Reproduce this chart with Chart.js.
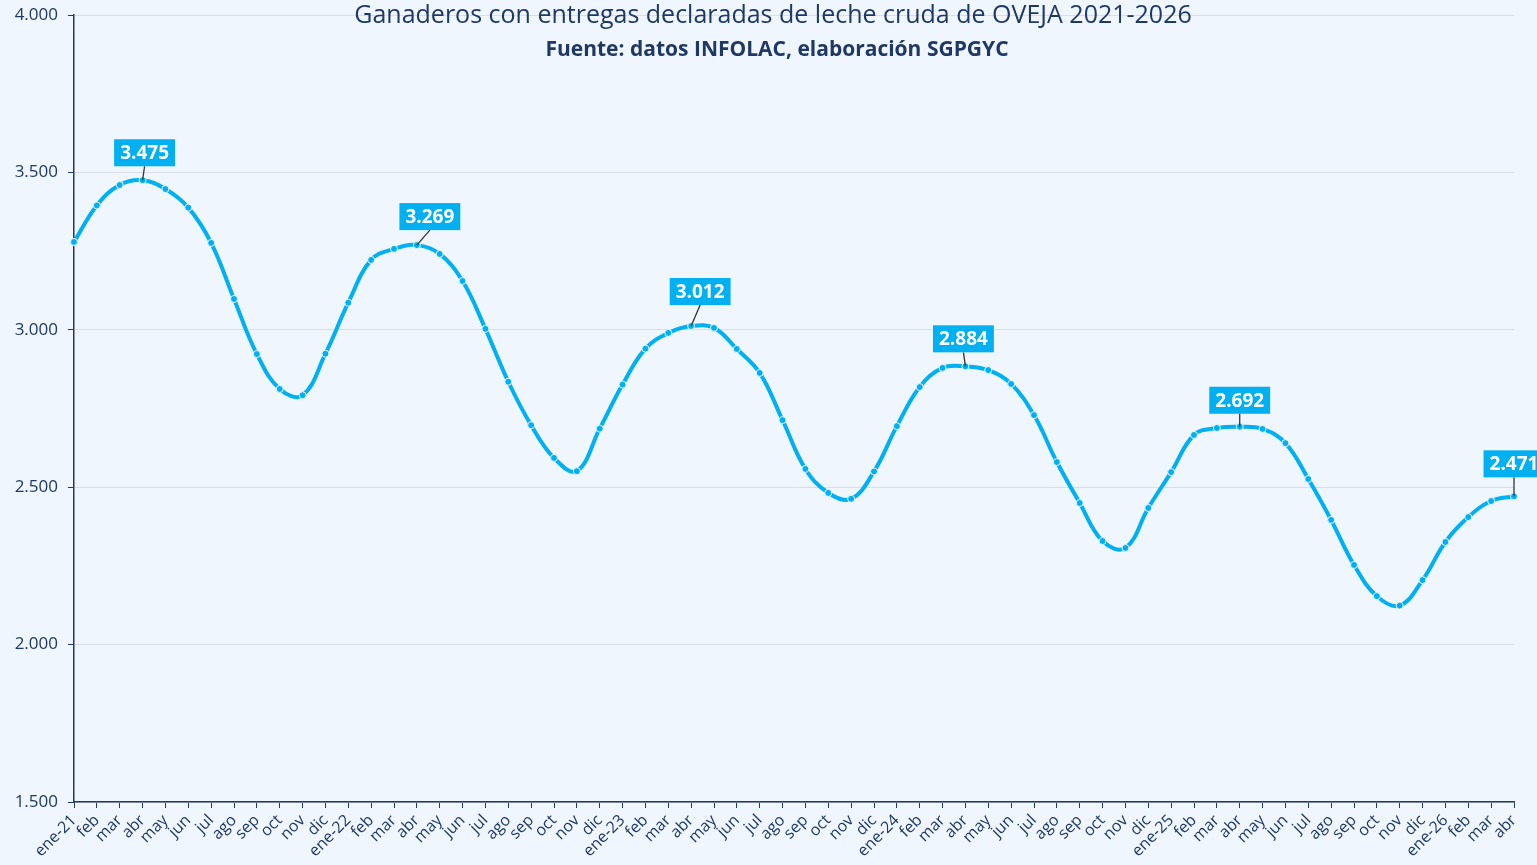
<!DOCTYPE html>
<html>
<head>
<meta charset="utf-8">
<script src="https://cdn.jsdelivr.net/npm/chart.js@4.4.1/dist/chart.umd.min.js"></script>
<style>
  html, body { margin: 0; padding: 0; background: #eff6fd; }
  #wrap { width: 1537px; height: 865px; position: relative; }
</style>
</head>
<body>
<div id="wrap"><canvas id="chart" width="1537" height="865"></canvas></div>
<script>
const categories = [
    'ene-21', 'feb', 'mar', 'abr', 'may', 'jun', 'jul', 'ago', 'sep', 'oct', 'nov', 'dic',
    'ene-22', 'feb', 'mar', 'abr', 'may', 'jun', 'jul', 'ago', 'sep', 'oct', 'nov', 'dic',
    'ene-23', 'feb', 'mar', 'abr', 'may', 'jun', 'jul', 'ago', 'sep', 'oct', 'nov', 'dic',
    'ene-24', 'feb', 'mar', 'abr', 'may', 'jun', 'jul', 'ago', 'sep', 'oct', 'nov', 'dic',
    'ene-25', 'feb', 'mar', 'abr', 'may', 'jun', 'jul', 'ago', 'sep', 'oct', 'nov', 'dic',
    'ene-26', 'feb', 'mar', 'abr'
];

const ganaderos = [
    3279, 3395, 3460, 3475, 3447, 3388, 3276, 3098, 2923, 2812, 2792, 2924,
    3086, 3222, 3257, 3269, 3241, 3155, 3003, 2835, 2697, 2593, 2551, 2686,
    2826, 2940, 2990, 3012, 3006, 2939, 2863, 2713, 2558, 2482, 2463, 2550,
    2694, 2818, 2879, 2884, 2872, 2828, 2729, 2580, 2450, 2329, 2307, 2434,
    2548, 2666, 2688, 2692, 2685, 2640, 2526, 2396, 2253, 2154, 2124, 2205,
    2326, 2405, 2456, 2471
];

// points that carry a value box (all the "abr" peaks)
const labelledIdx = [3, 15, 27, 39, 51, 63];

const yTicks = [1500, 2000, 2500, 3000, 3500, 4000];

const titleText = 'Ganaderos con entregas declaradas de leche cruda de OVEJA 2021-2026';
const subtitleText = 'Fuente: datos INFOLAC, elaboración SGPGYC';

const NAVY = '#1f3864';
const CYAN = '#00b0f0';

function fmt(v) {
    // thousands with a dot, as in the original
    return String(Math.round(v)).replace(/\B(?=(\d{3})+(?!\d))/g, '.');
}

const titlePlugin = {
    id: 'titles',
    afterDraw(chart) {
        const ctx = chart.ctx;
        ctx.save();
        ctx.textAlign = 'center';
        ctx.textBaseline = 'middle';
        ctx.fillStyle = NAVY;
        ctx.font = '25px "Open Sans"';
        ctx.fillText(titleText, 773, 16);
        ctx.font = 'bold 21px "Open Sans"';
        ctx.fillText(subtitleText, 777, 50);
        ctx.restore();
    }
};

const valueBoxes = {
    id: 'valueBoxes',
    afterDatasetsDraw(chart, args, opts) {
        const ctx = chart.ctx;
        const meta = chart.getDatasetMeta(0);
        ctx.save();
        ctx.font = 'bold 19px "Open Sans"';
        ctx.textAlign = 'center';
        ctx.textBaseline = 'middle';
        labelledIdx.forEach((idx, k) => {
            const pt = meta.data[idx];
            const off = opts.offsets[k];
            const txt = fmt(ganaderos[idx]);
            const w = ctx.measureText(txt).width + 12;
            const h = 27;
            const cx = pt.x + off[0];
            const bottom = pt.y + off[1];
            // leader line
            ctx.strokeStyle = '#333333';
            ctx.lineWidth = 1.3;
            ctx.beginPath();
            ctx.moveTo(cx, bottom);
            ctx.lineTo(pt.x, pt.y);
            ctx.stroke();
            ctx.fillStyle = CYAN;
            ctx.fillRect(cx - w / 2, bottom - h, w, h);
            ctx.fillStyle = '#ffffff';
            ctx.fillText(txt, cx, bottom - h / 2 + 1);
        });
        ctx.restore();
    }
};

new Chart(document.getElementById('chart').getContext('2d'), {
    type: 'line',
    data: {
        labels: categories,
        datasets: [{
            data: ganaderos,
            borderColor: CYAN,
            borderWidth: 4,
            tension: 0.4,
            pointRadius: 3.5,
            pointBorderWidth: 1,
            pointBorderColor: '#e8f6fd',
            pointBackgroundColor: CYAN,
            fill: false,
            clip: 10
        }]
    },
    options: {
        responsive: false,
        animation: false,
        layout: { padding: { left: 0, right: 23, top: 15, bottom: 0 } },
        plugins: {
            legend: { display: false },
            tooltip: { enabled: false },
            valueBoxes: {
                offsets: [[2, -14], [13, -15], [9, -21], [-2, -14], [0, -13], [0, -19]]
            }
        },
        scales: {
            x: {
                offset: false,
                afterFit(scale) { scale.height = 63; },
                grid: { drawOnChartArea: false, drawTicks: true, tickLength: 6, tickColor: NAVY },
                border: { color: NAVY, width: 1.5 },
                ticks: {
                    autoSkip: false,
                    maxRotation: 45,
                    minRotation: 45,
                    padding: 3,
                    color: NAVY,
                    font: { family: 'Open Sans', size: 16 }
                }
            },
            y: {
                min: 1500,
                max: 4000,
                afterFit(scale) {
                    scale.width = 74;
                    scale.paddingTop = 0;
                    scale.paddingBottom = 0;
                },
                afterBuildTicks(scale) { scale.ticks = yTicks.map(v => ({ value: v })); },
                grid: { color: '#d9dde4', lineWidth: 1, tickLength: 6, tickColor: NAVY },
                border: { color: NAVY, width: 1.5 },
                ticks: {
                    padding: 10,
                    color: NAVY,
                    font: { family: 'Open Sans', size: 17 },
                    callback: v => fmt(v)
                }
            }
        }
    },
    plugins: [valueBoxes, titlePlugin]
});
</script>
</body>
</html>
